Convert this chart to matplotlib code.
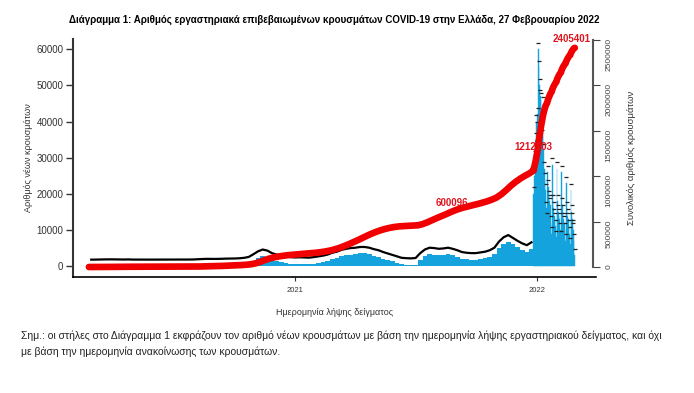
import matplotlib
matplotlib.use('Agg')
import matplotlib.pyplot as plt
import matplotlib.dates as mdates
from matplotlib.ticker import FuncFormatter
import numpy as np
import pandas as pd

plt.rcParams['font.family'] = ['Liberation Sans', 'DejaVu Sans']

# μέσος ημερήσιος αριθμός κρουσμάτων ανά εβδομάδα (24/2/2020 - 26/12/2021)
week_start = '2020-02-24'
weekly_avg = [
    1, 10, 40, 60, 80, 70, 50, 30, 60, 15,
    10, 12, 8, 8, 10, 15, 15, 20, 20,
    30, 25, 30, 45, 110, 170, 220, 200, 200,
    230, 280, 300, 320, 380, 500, 750, 1500,
    2300, 2800, 2500, 1800, 1400, 1100, 900, 700, 600,
    650, 600, 550, 700, 900, 1100, 1400, 1900,
    2200, 2700, 3000, 3200, 3300, 3500, 3500, 3300, 2900, 2600,
    2100, 1700, 1300, 900, 500, 400, 350, 450,
    1800, 2800, 3300, 3200, 3000, 3100, 3300, 3000, 2600,
    2100, 1900, 1800, 1800, 2000, 2200, 2600, 3300,
    5000, 6200, 6800, 6000, 5200, 4500, 4000, 4800,
]

# ημερήσια κρούσματα (27/12/2021 - 27/2/2022)
daily_start = '2021-12-27'
daily_cases = [
    20000, 25000, 30000, 35000, 40000, 38000, 42000,
    60000, 55000, 50000, 47000, 46000, 40000, 36000,
    45000, 32000, 27000, 24000, 21000, 16000, 13000,
    26000, 22000, 19000, 18000, 17000, 12000, 9000,
    28000, 18000, 16000, 14000, 13000, 11000, 8000,
    27000, 18000, 15000, 14000, 13000, 10000, 8000,
    26000, 17000, 15000, 13000, 12000, 10000, 7000,
    23000, 16000, 14000, 13000, 11000, 9000, 6000,
    21000, 15000, 13000, 11000, 10000, 7000, 3000,
]

# ετικέτες συνολικού αριθμού
label_dates = ['2021-08-30', '2021-12-31', '2022-02-27']
label_values = [600096, 1212103, 2405401]

title = ('Διάγραμμα 1: Αριθμός εργαστηριακά επιβεβαιωμένων κρουσμάτων '
         'COVID-19 στην Ελλάδα, 27 Φεβρουαρίου 2022')
note = ('Σημ.: οι στήλες στο Διάγραμμα 1 εκφράζουν τον αριθμό νέων κρουσμάτων '
        'με βάση την ημερομηνία λήψης εργαστηριακού δείγματος, και όχι\n'
        'με βάση την ημερομηνία ανακοίνωσης των κρουσμάτων.')

weeks = pd.date_range(week_start, periods=len(weekly_avg), freq='7D')
days = pd.date_range(daily_start, periods=len(daily_cases), freq='D')
weekly_avg = np.array(weekly_avg, dtype=float)
daily_cases = np.array(daily_cases, dtype=float)

# συνολικός αριθμός (αθροιστικά)
cum_x = [weeks[0]] + list(weeks + pd.Timedelta(days=7)) + list(days)
cum_y = np.concatenate([[0], np.cumsum(weekly_avg * 7),
                        weekly_avg.sum() * 7 + np.cumsum(daily_cases)])

fig = plt.figure(figsize=(6.94, 3.93), dpi=100)
ax = fig.add_axes([0.1052, 0.2952, 0.7536, 0.6056])
ax2 = ax.twinx()

blue = '#14A3DC'
ax.bar(weeks, weekly_avg, width=7, align='edge', color=blue, linewidth=0)
ax.bar(days, daily_cases, width=1.0, color=blue, edgecolor=blue, linewidth=0.3)

# ετικέτες τιμών πάνω από τις στήλες
ax.plot(weeks + pd.Timedelta(days=3.5), weekly_avg + 1800, color='black', lw=1.6)
ax.plot(days, daily_cases + 1800, ls='none', marker='_', ms=3, mew=0.9,
        color='#222222')

ax2.plot(cum_x, cum_y, color='#F00000', lw=4.8, solid_capstyle='round')
for d, v in zip(label_dates, label_values):
    ax2.annotate(str(v), (pd.Timestamp(d), v), xytext=(-2, 7),
                 textcoords='offset points', ha='center', va='center',
                 color='#E0141E', fontsize=7, fontweight='bold')

ax.set_xlim(pd.Timestamp('2020-01-31'), pd.Timestamp('2022-03-31'))
ax.set_ylim(-3000, 62850)
ax2.set_ylim(-110000, 2511000)

ax.set_yticks(np.arange(0, 60001, 10000))
ax.tick_params(axis='y', labelsize=7, length=5, width=1, colors='#333333',
               pad=2)
ax.set_xticks([pd.Timestamp('2021-01-01'), pd.Timestamp('2022-01-01')])
ax.xaxis.set_major_formatter(mdates.DateFormatter('%Y'))
ax.tick_params(axis='x', labelsize=5.5, length=3, colors='#333333', pad=4.5)

ax2.set_yticks(np.arange(0, 2500001, 500000))
ax2.yaxis.set_major_formatter(FuncFormatter(lambda v, p: '%d' % v))
ax2.tick_params(axis='y', labelsize=6, length=5, colors='#444444', pad=4,
                labelrotation=90)
for lab in ax2.get_yticklabels():
    lab.set_va('center')

for s in ['top', 'right']:
    ax.spines[s].set_visible(False)
for s in ['top', 'left', 'bottom']:
    ax2.spines[s].set_visible(False)
ax.spines['left'].set_linewidth(1.5)
ax.spines['left'].set_color('#333333')
ax.spines['bottom'].set_linewidth(1.2)
ax2.spines['right'].set_bounds(0, 2500000)
ax2.spines['right'].set_color('#555555')
ax2.spines['right'].set_linewidth(1.5)
ax2.spines['right'].set_position(('axes', 0.994))

ax.set_ylabel('Αριθμός νέων κρουσμάτων', fontsize=6.5, color='#333333')
ax.yaxis.set_label_coords(-0.076, 0.5)
ax2.set_ylabel('Συνολικός αριθμός κρουσμάτων', fontsize=6.8, color='#333333')
ax2.yaxis.set_label_coords(1.059, 0.5)
ax.set_xlabel('Ημερομηνία λήψης δείγματος', fontsize=6.5, color='#333333',
              labelpad=9.5)

fig.text(0.481, 0.949, title, ha='center', va='center', fontsize=7,
         fontweight='bold')
fig.text(0.03, 0.125, note, ha='left', va='center', fontsize=7.5,
         linespacing=1.6, color='#222222')

fig.savefig('out.png', dpi=100)
